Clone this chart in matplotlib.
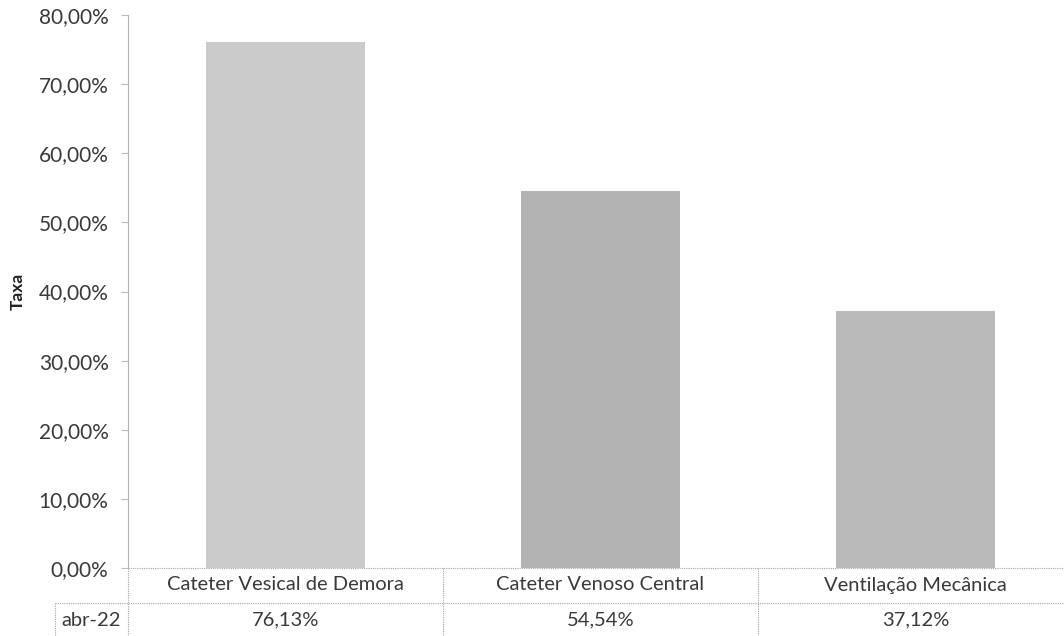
import matplotlib
matplotlib.use("Agg")
import matplotlib.pyplot as plt
from matplotlib.lines import Line2D
from matplotlib.ticker import FuncFormatter

categories = ["Cateter Vesical de Demora", "Cateter Venoso Central", "Ventilação Mecânica"]
values = [76.13, 54.54, 37.12]
series_name = "abr-22"
yticks = [0, 10, 20, 30, 40, 50, 60, 70, 80]
bar_colors = ["#cbcbcb", "#b3b3b3", "#b9b9b9"]

plt.rcParams['font.family'] = ['Lato', 'DejaVu Sans']

W, H = 1064, 636
fig = plt.figure(figsize=(W / 100, H / 100), dpi=100)
fig.patch.set_facecolor("white")

left_px, right_px, top_px, bot_px = 128, 1073, 15, 568
ax = fig.add_axes([left_px / W, 1 - bot_px / H, (right_px - left_px) / W, (bot_px - top_px) / H])

x = list(range(len(categories)))
ax.bar(x, values, width=0.505, color=bar_colors, edgecolor="none", zorder=2)
ax.set_xlim(-0.5, len(categories) - 0.5)
ax.set_ylim(0, 80)
ax.set_yticks(yticks)
ax.yaxis.set_major_formatter(FuncFormatter(lambda v, p: f"{v:.2f}%".replace(".", ",")))
ax.tick_params(axis="y", labelsize=15, colors="#bbbbbb", length=5, width=0.8, pad=9, direction="out")
ax.tick_params(axis="y", labelcolor="#3a3a3a")
ax.set_xticks([])
for s in ["top", "right", "bottom"]:
    ax.spines[s].set_visible(False)
ax.spines["left"].set_color("#b5b5b5")
ax.spines["left"].set_linewidth(0.8)
ax.set_ylabel("Taxa", fontsize=12.5, fontweight="bold", color="#222222")
ax.yaxis.set_label_coords(-0.108, 0.5)

def fx(px):
    return px / W

def fy(py):
    return 1 - py / H

lc = "#a8a8a8"
ls = (0, (1, 1))
lines = [
    ((left_px, W), (bot_px, bot_px)),
    ((55, W), (603, 603)),
    ((left_px, left_px), (bot_px, H)),
    ((55, 55), (603, H)),
]
col_w = (right_px - left_px) / len(categories)
for i in range(1, len(categories)):
    xb = left_px + i * col_w
    lines.append(((xb, xb), (bot_px, H)))
for (xs, ys) in lines:
    fig.add_artist(Line2D([fx(xs[0]), fx(xs[1])], [fy(ys[0]), fy(ys[1])],
                          transform=fig.transFigure, color=lc, lw=0.8, linestyle=ls))

for i, (c, v) in enumerate(zip(categories, values)):
    cx = left_px + (i + 0.5) * col_w
    fig.text(fx(cx), fy(585), c, ha="center", va="center", fontsize=14.5, color="#3a3a3a")
    fig.text(fx(cx), fy(620), f"{v:.2f}%".replace(".", ","), ha="center", va="center",
             fontsize=14.5, color="#3a3a3a")
fig.text(fx(91), fy(620), series_name, ha="center", va="center", fontsize=14.5, color="#3a3a3a")

fig.savefig("out.png", dpi=100, facecolor="white")
